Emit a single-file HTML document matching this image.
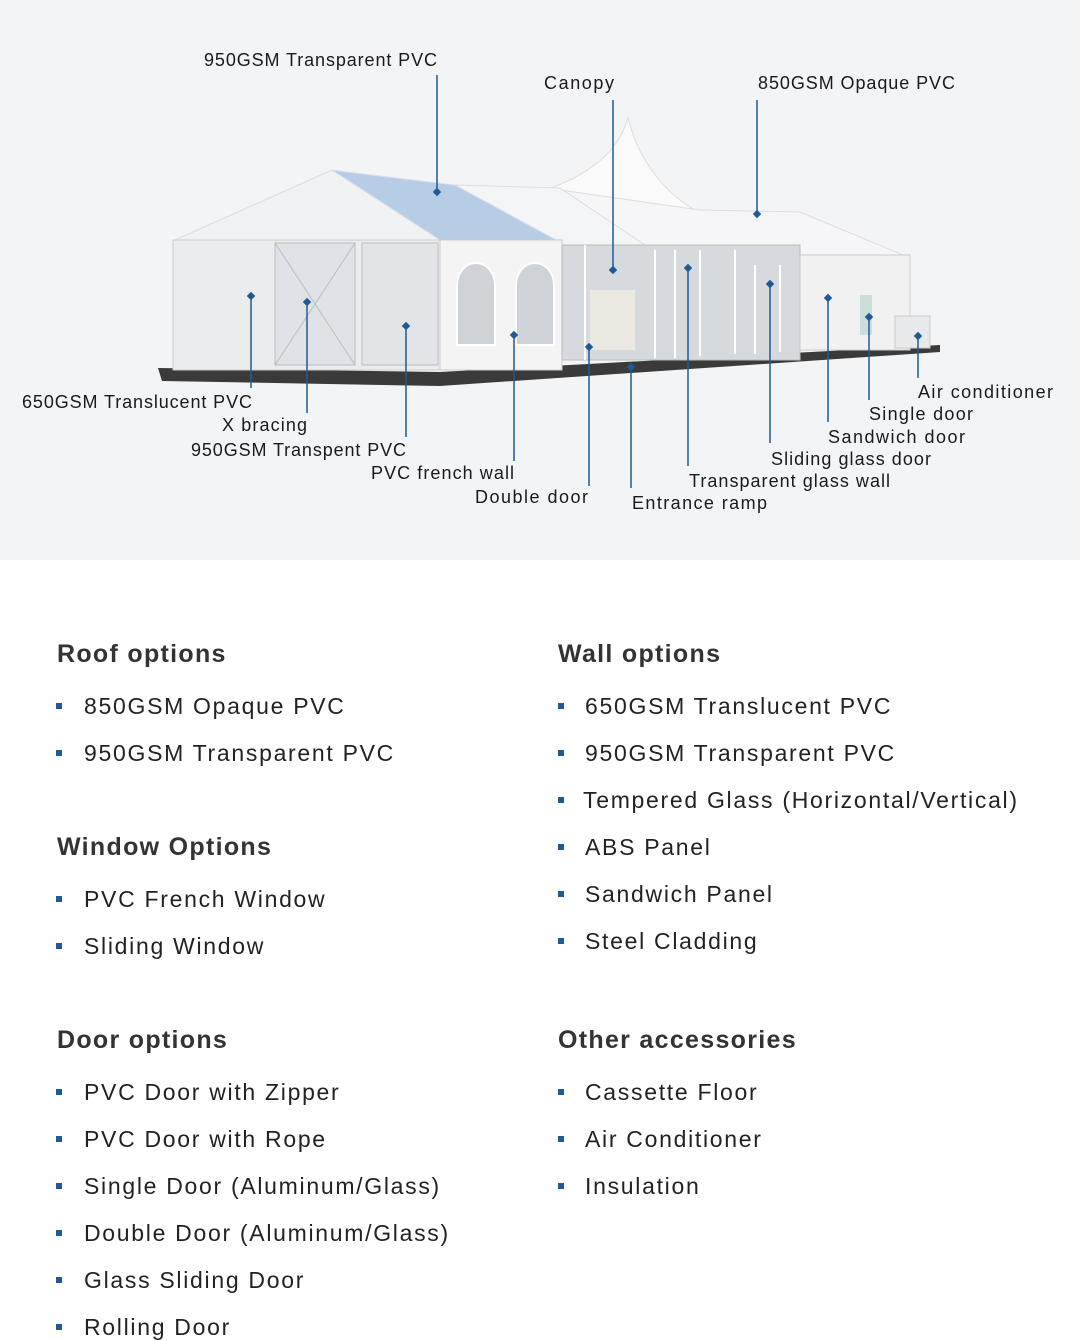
<!DOCTYPE html>
<html><head><meta charset="utf-8"><style>
body{margin:0;width:1080px;height:1340px;background:#fff;font-family:"Liberation Sans",sans-serif;overflow:hidden;position:relative}
.top{position:absolute;left:0;top:0;width:1080px;height:560px;background:#f3f4f6}
svg{position:absolute;left:0;top:0}
.h{position:absolute;font-size:25px;font-weight:bold;color:#333;line-height:30px;letter-spacing:1.3px}
.i{position:absolute;font-size:23px;color:#222;line-height:28px;letter-spacing:1.7px}
.b{position:absolute;width:6px;height:6px;background:#1f5a96}
</style></head><body>
<div class="top"></div>
<svg width="1080" height="560" viewBox="0 0 1080 560">
<polygon points="158,368 440,372 940,345 940,352 440,386 162,381" fill="#3a3a3a"/>
<path d="M545,190 C590,175 620,150 628,117 C635,150 660,195 705,215 L720,250 L560,245 Z" fill="#fafafa" stroke="#ddd"/>
<polygon points="700,210 800,212 910,258 800,258 560,245 560,190" fill="#f6f6f8" stroke="#ddd"/>
<polygon points="455,185 560,188 645,245 560,245" fill="#f4f5f7" stroke="#ddd"/>
<polygon points="175,240 332,170 440,240" fill="#f1f2f4" stroke="#ddd"/>
<polygon points="332,170 347,172 455,185 560,242 440,240" fill="#b7cde6" stroke="#dde"/>
<rect x="173" y="240" width="267" height="130" fill="#ebecee" stroke="#ccc"/>
<rect x="275" y="243" width="80" height="122" fill="#dfe3e8" stroke="#bbb"/>
<rect x="362" y="243" width="76" height="122" fill="#e2e4e7" stroke="#bbb"/>
<line x1="275" y1="243" x2="355" y2="365" stroke="#bbb"/><line x1="355" y1="243" x2="275" y2="365" stroke="#bbb"/>
<rect x="440" y="240" width="122" height="130" fill="#f4f4f5" stroke="#ccc"/>
<path d="M457,345 V285 a19,22 0 0 1 38,0 V345 Z" fill="#cfd3d8" stroke="#fff" stroke-width="2"/>
<path d="M516,345 V285 a19,22 0 0 1 38,0 V345 Z" fill="#cfd3d8" stroke="#fff" stroke-width="2"/>
<rect x="562" y="245" width="238" height="115" fill="#d6d9dd" stroke="#bbb"/>
<g stroke="#fff" stroke-width="2"><line x1="585" y1="245" x2="585" y2="360"/><line x1="655" y1="250" x2="655" y2="358"/><line x1="675" y1="250" x2="675" y2="358"/><line x1="700" y1="250" x2="700" y2="356"/><line x1="735" y1="250" x2="735" y2="354"/><line x1="755" y1="265" x2="755" y2="354"/><line x1="780" y1="265" x2="780" y2="352"/></g>
<rect x="590" y="290" width="45" height="60" fill="#ece8e2"/>
<rect x="800" y="255" width="110" height="95" fill="#f1f1f2" stroke="#ccc"/>
<rect x="860" y="295" width="12" height="40" fill="#cdd"/>
<rect x="895" y="316" width="35" height="32" fill="#e8e9eb" stroke="#ccc"/>
<g stroke="#1f5a96" stroke-width="1.5">
<line x1="437" y1="75" x2="437" y2="192"/><line x1="613" y1="100" x2="613" y2="270"/><line x1="757" y1="100" x2="757" y2="214"/>
<line x1="251" y1="296" x2="251" y2="388"/><line x1="307" y1="302" x2="307" y2="413"/><line x1="406" y1="326" x2="406" y2="437"/>
<line x1="514" y1="335" x2="514" y2="461"/><line x1="589" y1="347" x2="589" y2="486"/><line x1="631" y1="367" x2="631" y2="488"/>
<line x1="688" y1="268" x2="688" y2="466"/><line x1="770" y1="284" x2="770" y2="443"/><line x1="828" y1="298" x2="828" y2="422"/>
<line x1="869" y1="317" x2="869" y2="400"/><line x1="918" y1="336" x2="918" y2="378"/>
</g>
<g fill="#1f5a96">
<rect x="434" y="189" width="6" height="6" transform="rotate(45 437 192)"/><rect x="610" y="267" width="6" height="6" transform="rotate(45 613 270)"/><rect x="754" y="211" width="6" height="6" transform="rotate(45 757 214)"/>
<rect x="248" y="293" width="6" height="6" transform="rotate(45 251 296)"/><rect x="304" y="299" width="6" height="6" transform="rotate(45 307 302)"/><rect x="403" y="323" width="6" height="6" transform="rotate(45 406 326)"/>
<rect x="511" y="332" width="6" height="6" transform="rotate(45 514 335)"/><rect x="586" y="344" width="6" height="6" transform="rotate(45 589 347)"/><rect x="628" y="364" width="6" height="6" transform="rotate(45 631 367)"/>
<rect x="685" y="265" width="6" height="6" transform="rotate(45 688 268)"/><rect x="767" y="281" width="6" height="6" transform="rotate(45 770 284)"/><rect x="825" y="295" width="6" height="6" transform="rotate(45 828 298)"/>
<rect x="866" y="314" width="6" height="6" transform="rotate(45 869 317)"/><rect x="915" y="333" width="6" height="6" transform="rotate(45 918 336)"/>
</g>
<g font-family="Liberation Sans, sans-serif" font-size="18" fill="#1a1a1a" lengthAdjust="spacing">
<text x="204" y="66" textLength="233">950GSM Transparent PVC</text>
<text x="544" y="89" textLength="70">Canopy</text>
<text x="758" y="89" textLength="197">850GSM Opaque PVC</text>
<text x="22" y="408" textLength="230">650GSM Translucent PVC</text>
<text x="222" y="431" textLength="85">X bracing</text>
<text x="191" y="456" textLength="215">950GSM Transpent PVC</text>
<text x="371" y="479" textLength="143">PVC french wall</text>
<text x="475" y="503" textLength="113">Double door</text>
<text x="632" y="509" textLength="135">Entrance ramp</text>
<text x="689" y="487" textLength="201">Transparent glass wall</text>
<text x="771" y="465" textLength="160">Sliding glass door</text>
<text x="828" y="443" textLength="137">Sandwich door</text>
<text x="869" y="420" textLength="104">Single door</text>
<text x="918" y="398" textLength="135">Air conditioner</text>
</g>
</svg>

<div class="h" style="left:57px;top:639px">Roof options</div>
<div class="b" style="left:56px;top:703px"></div><div class="i" style="left:84px;top:692px">850GSM Opaque PVC</div>
<div class="b" style="left:56px;top:750px"></div><div class="i" style="left:84px;top:739px">950GSM Transparent PVC</div>
<div class="h" style="left:57px;top:832px">Window Options</div>
<div class="b" style="left:56px;top:896px"></div><div class="i" style="left:84px;top:885px">PVC French Window</div>
<div class="b" style="left:56px;top:943px"></div><div class="i" style="left:84px;top:932px">Sliding Window</div>
<div class="h" style="left:57px;top:1025px">Door options</div>
<div class="b" style="left:56px;top:1089px"></div><div class="i" style="left:84px;top:1078px">PVC Door with Zipper</div>
<div class="b" style="left:56px;top:1136px"></div><div class="i" style="left:84px;top:1125px">PVC Door with Rope</div>
<div class="b" style="left:56px;top:1183px"></div><div class="i" style="left:84px;top:1172px">Single Door (Aluminum/Glass)</div>
<div class="b" style="left:56px;top:1230px"></div><div class="i" style="left:84px;top:1219px">Double Door (Aluminum/Glass)</div>
<div class="b" style="left:56px;top:1277px"></div><div class="i" style="left:84px;top:1266px">Glass Sliding Door</div>
<div class="b" style="left:56px;top:1324px"></div><div class="i" style="left:84px;top:1313px">Rolling Door</div>

<div class="h" style="left:558px;top:639px">Wall options</div>
<div class="b" style="left:558px;top:703px"></div><div class="i" style="left:585px;top:692px">650GSM Translucent PVC</div>
<div class="b" style="left:558px;top:750px"></div><div class="i" style="left:585px;top:739px">950GSM Transparent PVC</div>
<div class="b" style="left:558px;top:797px"></div><div class="i" style="left:583px;top:786px">Tempered Glass (Horizontal/Vertical)</div>
<div class="b" style="left:558px;top:844px"></div><div class="i" style="left:585px;top:833px">ABS Panel</div>
<div class="b" style="left:558px;top:891px"></div><div class="i" style="left:585px;top:880px">Sandwich Panel</div>
<div class="b" style="left:558px;top:938px"></div><div class="i" style="left:585px;top:927px">Steel Cladding</div>
<div class="h" style="left:558px;top:1025px">Other accessories</div>
<div class="b" style="left:558px;top:1089px"></div><div class="i" style="left:585px;top:1078px">Cassette Floor</div>
<div class="b" style="left:558px;top:1136px"></div><div class="i" style="left:585px;top:1125px">Air Conditioner</div>
<div class="b" style="left:558px;top:1183px"></div><div class="i" style="left:585px;top:1172px">Insulation</div>
</body></html>
